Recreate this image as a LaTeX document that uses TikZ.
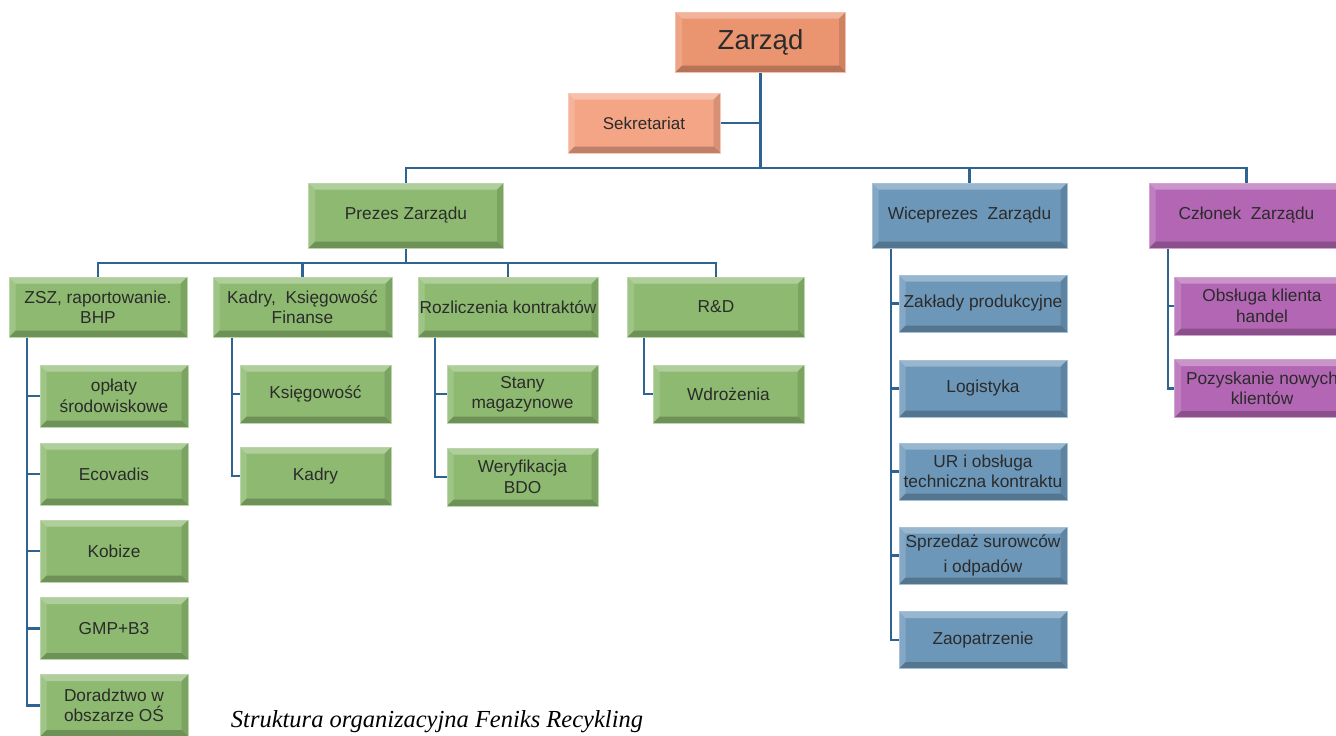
\documentclass[tikz,border=0pt]{standalone}
\usepackage{fontspec}
\setmainfont{Liberation Sans}
\newfontfamily\capfont{Liberation Serif}
\definecolor{grn}{HTML}{8DBA70}
\definecolor{blu}{HTML}{6C97B9}
\definecolor{pur}{HTML}{B366B3}
\definecolor{org}{HTML}{EB9470}
\definecolor{orgl}{HTML}{F4A586}
\definecolor{lin}{HTML}{2F6392}
\definecolor{txt}{HTML}{2B2B2B}
\tikzset{
  bevel/.style={path picture={
    \path (path picture bounding box.north west) coordinate (pnw)
          (path picture bounding box.north east) coordinate (pne)
          (path picture bounding box.south west) coordinate (psw)
          (path picture bounding box.south east) coordinate (pse);
    \fill[white,opacity=.30] (pnw) -- (pne) -- ([shift={(-6.5pt,-6.5pt)}]pne) -- ([shift={(6.5pt,-6.5pt)}]pnw) -- cycle;
    \fill[white,opacity=.16] (pnw) -- ([shift={(6.5pt,-6.5pt)}]pnw) -- ([shift={(6.5pt,6.5pt)}]psw) -- (psw) -- cycle;
    \fill[black,opacity=.22] (psw) -- ([shift={(6.5pt,6.5pt)}]psw) -- ([shift={(-6.5pt,6.5pt)}]pse) -- (pse) -- cycle;
    \fill[black,opacity=.12] (pse) -- ([shift={(-6.5pt,6.5pt)}]pse) -- ([shift={(-6.5pt,-6.5pt)}]pne) -- (pne) -- cycle;
  }},
  box/.style={rectangle, fill=#1, draw=#1!60!white, line width=1pt, text=txt,
    align=center, inner sep=0pt, font=\fontsize{17.3}{20.5}\selectfont, bevel},
  tone/.style={minimum width=195pt, minimum height=65pt},
  ttwo/.style={minimum width=#1, minimum height=60pt},
  kid/.style={minimum width=#1, minimum height=58pt},
  conn/.style={draw=lin, line width=2.6pt, line join=miter},
}
\begin{document}
\begin{tikzpicture}[x=1pt,y=-1pt]
\useasboundingbox (0,0) rectangle (1336,736);
\fill[white] (0,0) rectangle (1336,736);
\clip (0,0) rectangle (1336,736);

% top
\node[box=org, minimum width=170pt, minimum height=60pt, font=\fontsize{27.5}{30}\selectfont] (zarzad) at (760.5,42) {Zarząd};
\node[box=orgl, minimum width=152pt, minimum height=60pt, font=\fontsize{17}{20}\selectfont] (sekr) at (644,123) {Sekretariat};

% tier 1
\node[box=grn, tone] (prezes) at (406,215.5) {Prezes Zarządu};
\node[box=blu, tone] (wice) at (969.5,215.5) {Wiceprezes\ \ Zarządu};
\node[box=pur, tone] (czlonek) at (1246.5,215.5) {Członek\ \ Zarządu};

% tier 2 (Prezes)
\node[box=grn, ttwo=178pt] (zsz) at (98,307) {ZSZ, raportowanie.\\BHP};
\node[box=grn, ttwo=179pt] (kadryk) at (302.5,307) {Kadry,\ \ Księgowość\\Finanse};
\node[box=grn, ttwo=180pt] (rozl) at (508,307) {Rozliczenia kontraktów};
\node[box=grn, ttwo=177pt] (rd) at (716,307) {R\&D};

% ZSZ children
\node[box=grn, minimum width=148pt, minimum height=62pt] (oplaty) at (114,396) {opłaty\\środowiskowe};
\node[box=grn, minimum width=148pt, minimum height=62pt] (ecovadis) at (114,474) {Ecovadis};
\node[box=grn, minimum width=148pt, minimum height=62pt] (kobize) at (114,551) {Kobize};
\node[box=grn, minimum width=148pt, minimum height=62pt] (gmp) at (114,628.5) {GMP+B3};
\node[box=grn, minimum width=148pt, minimum height=62pt] (doradztwo) at (114,705.5) {Doradztwo w\\obszarze OŚ};

% Kadry children
\node[box=grn, kid=151pt] (ksieg) at (315.5,394) {Księgowość};
\node[box=grn, kid=151pt] (kadry) at (315.5,476) {Kadry};

% Rozliczenia children
\node[box=grn, kid=151pt] (stany) at (522.5,394) {Stany\\magazynowe};
\node[box=grn, kid=151pt] (weryf) at (522.5,477) {Weryfikacja\\BDO};

% R&D child
\node[box=grn, kid=151pt] (wdroz) at (728.5,394) {Wdrożenia};

% Wiceprezes children
\node[box=blu, minimum width=168pt, minimum height=57pt] (zaklady) at (983,303.5) {Zakłady produkcyjne};
\node[box=blu, minimum width=168pt, minimum height=57pt] (logistyka) at (983,388.5) {Logistyka};
\node[box=blu, minimum width=168pt, minimum height=57pt] (ur) at (983,471.5) {UR i obsługa\\techniczna kontraktu};
\node[box=blu, minimum width=168pt, minimum height=57pt] (sprzedaz) at (983,555.5) {Sprzedaż surowców\\[5pt]i odpadów};
\node[box=blu, minimum width=168pt, minimum height=57pt] (zaopatrzenie) at (983,640) {Zaopatrzenie};

% Czlonek children
\node[box=pur, kid=175pt] (obsluga) at (1262,306) {Obsługa klienta\\handel};
\node[box=pur, kid=175pt] (pozysk) at (1262,388.5) {Pozyskanie nowych\\klientów};

% caption
\node[font=\capfont\itshape\fontsize{24.5}{28}\selectfont, anchor=base, text=black] (cap) at (437,727) {Struktura organizacyjna Feniks Recykling};

% bus coordinates
\coordinate (bus1) at (760.5,168);
\coordinate (bus2) at (406,263);
\coordinate (v1) at (27,0);
\coordinate (v2) at (232,0);
\coordinate (v3) at (435,0);
\coordinate (v4) at (644,0);
\coordinate (v5) at (891,0);
\coordinate (v6) at (1168,0);

% connectors
\draw[conn] (zarzad.south) -- (bus1);
\draw[conn] (sekr.east) -- (sekr.east -| zarzad.south);
\draw[conn] (prezes.north) |- (bus1) -| (czlonek.north);
\draw[conn] (wice.north) -- (wice.north |- bus1);

\draw[conn] (prezes.south) -- (bus2);
\draw[conn] (zsz.north) |- (bus2) -| (rd.north);
\draw[conn] (kadryk.north) -- (kadryk.north |- bus2);
\draw[conn] (rozl.north) -- (rozl.north |- bus2);

\draw[conn] (zsz.south -| v1) |- (doradztwo.west);
\foreach \n in {oplaty,ecovadis,kobize,gmp} \draw[conn] (\n.west -| v1) -- (\n.west);
\draw[conn] (kadryk.south -| v2) |- (kadry.west);
\draw[conn] (ksieg.west -| v2) -- (ksieg.west);
\draw[conn] (rozl.south -| v3) |- (weryf.west);
\draw[conn] (stany.west -| v3) -- (stany.west);
\draw[conn] (rd.south -| v4) |- (wdroz.west);
\draw[conn] (wice.south -| v5) |- (zaopatrzenie.west);
\foreach \n in {zaklady,logistyka,ur,sprzedaz} \draw[conn] (\n.west -| v5) -- (\n.west);
\draw[conn] (czlonek.south -| v6) |- (pozysk.west);
\draw[conn] (obsluga.west -| v6) -- (obsluga.west);
\end{tikzpicture}
\end{document}
